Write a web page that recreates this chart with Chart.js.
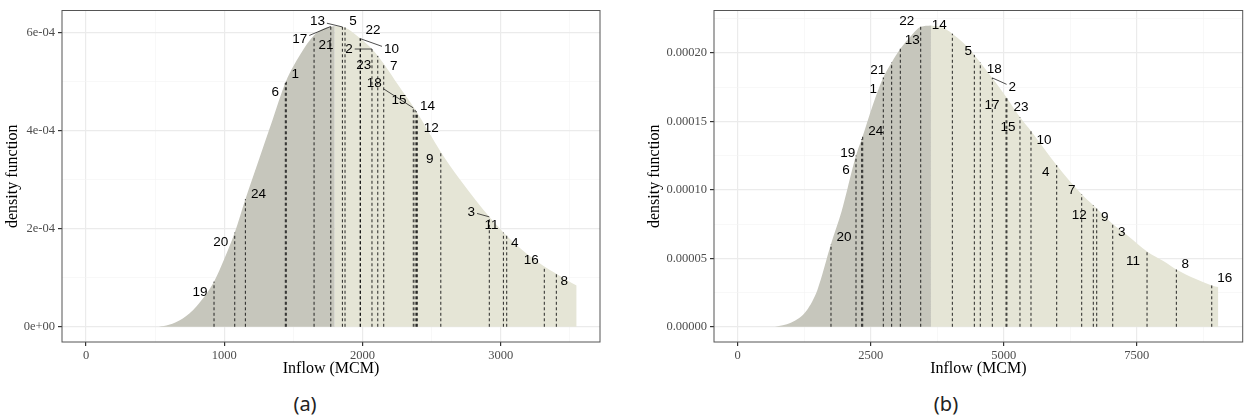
<!DOCTYPE html>
<html>
<head>
<meta charset="utf-8">
<script src="https://cdn.jsdelivr.net/npm/chart.js@4.4.1/dist/chart.umd.min.js"></script>
<style>
  body { margin: 0; background: #fff; width: 1244px; height: 418px; overflow: hidden; position: relative; }
  canvas { position: absolute; top: 0; }
  .tag { position: absolute; top: 390px; width: 100px; text-align: center; font: 20px "Noto Sans", sans-serif; line-height: 28px; color: #222; }
</style>
</head>
<body>
<canvas id="chartA" width="610" height="385" style="left:0"></canvas>
<canvas id="chartB" width="604" height="385" style="left:640px"></canvas>
<div class="tag" style="left:255px">(a)</div>
<div class="tag" style="left:896px">(b)</div>
<script>
// ---- panel (a): density curve
const curveAx = [526, 600, 700, 800, 926, 1000, 1076, 1153, 1250, 1350, 1445, 1550, 1650, 1720, 1800, 1874, 1983, 2069, 2154, 2260, 2390, 2567, 2700, 2820, 2918, 3020, 3150, 3316, 3403, 3480, 3550];
const curveAy = [0, 0.04e-4, 0.17e-4, 0.42e-4, 0.92e-4, 1.38e-4, 1.92e-4, 2.60e-4, 3.40e-4, 4.22e-4, 4.99e-4, 5.55e-4, 5.94e-4, 6.08e-4, 6.13e-4, 6.10e-4, 5.88e-4, 5.66e-4, 5.36e-4, 4.92e-4, 4.39e-4, 3.56e-4, 3.02e-4, 2.58e-4, 2.24e-4, 1.92e-4, 1.58e-4, 1.23e-4, 1.08e-4, 0.95e-4, 0.84e-4];
const modeA = 1800;
// yearly inflows (labels 1..24) and their density
const yearsA = ['19', '20', '24', '6', '1', '21', '17', '13', '5', '22', '10', '2', '23', '7', '18', '15', '14', '12', '9', '3', '11', '4', '16', '8'];
const inflowA = [926, 1076, 1153, 1442, 1449, 1650, 1771, 1855, 1874, 1983, 1986, 2069, 2111, 2154, 2368, 2381, 2391, 2397, 2567, 2918, 3020, 3044, 3316, 3403];
const densA = [0.92e-4, 1.92e-4, 2.60e-4, 4.97e-4, 5.01e-4, 5.94e-4, 6.12e-4, 6.11e-4, 6.10e-4, 5.88e-4, 5.87e-4, 5.66e-4, 5.52e-4, 5.36e-4, 4.46e-4, 4.42e-4, 4.39e-4, 4.37e-4, 3.56e-4, 2.24e-4, 1.92e-4, 1.87e-4, 1.23e-4, 1.08e-4];
const xTicksA = [0, 500, 1000, 1500, 2000, 2500, 3000, 3500];
const xLabelsA = ['0', '', '1000', '', '2000', '', '3000', ''];
const yTicksA = [0, 1e-4, 2e-4, 3e-4, 4e-4, 5e-4, 6e-4];
const yLabelsA = ['0e+00', '', '2e-04', '', '4e-04', '', '6e-04'];

// ---- panel (b)
const curveBx = [701, 1000, 1300, 1500, 1754, 1955, 2224, 2340, 2550, 2737, 2894, 3057, 3250, 3440, 3633, 3850, 4035, 4250, 4448, 4560, 4786, 5044, 5306, 5513, 5996, 6466, 6684, 6748, 7049, 7350, 7694, 8000, 8245, 8600, 8910, 9034];
const curveBy = [0, 0.29e-5, 1.21e-5, 2.71e-5, 6.04e-5, 8.45e-5, 12.5e-5, 13.8e-5, 16.3e-5, 18.2e-5, 19.3e-5, 20.3e-5, 21.2e-5, 21.9e-5, 22.0e-5, 21.85e-5, 21.4e-5, 20.7e-5, 19.85e-5, 19.3e-5, 18.17e-5, 16.8e-5, 15.3e-5, 14.3e-5, 11.8e-5, 9.67e-5, 8.87e-5, 8.63e-5, 7.5e-5, 6.6e-5, 5.5e-5, 4.8e-5, 4.18e-5, 3.5e-5, 3.02e-5, 2.9e-5];
const modeB = 3633;
const yearsB = ['20', '6', '19', '24', '1', '21', '13', '22', '14', '5', '18', '2', '17', '15', '23', '10', '4', '7', '12', '9', '3', '11', '8', '16'];
const inflowB = [1754, 2224, 2330, 2350, 2737, 2894, 3057, 3440, 4035, 4448, 4560, 4786, 5044, 5060, 5306, 5513, 5996, 6466, 6684, 6748, 7049, 7694, 8245, 8910];
const densB = [6.04e-5, 12.5e-5, 13.7e-5, 13.9e-5, 18.2e-5, 19.3e-5, 20.3e-5, 21.9e-5, 21.4e-5, 19.85e-5, 19.3e-5, 18.17e-5, 16.8e-5, 16.7e-5, 15.3e-5, 14.3e-5, 11.8e-5, 9.67e-5, 8.87e-5, 8.63e-5, 7.5e-5, 5.5e-5, 4.18e-5, 3.02e-5];
const xTicksB = [0, 1250, 2500, 3750, 5000, 6250, 7500, 8750];
const xLabelsB = ['0', '', '2500', '', '5000', '', '7500', ''];
const yTicksB = [0, 2.5e-5, 5e-5, 7.5e-5, 10e-5, 12.5e-5, 15e-5, 17.5e-5, 20e-5, 22.5e-5];
const yLabelsB = ['0.00000', '', '0.00005', '', '0.00010', '', '0.00015', '', '0.00020', ''];

// label placement (pixel nudges, like ggrepel did it)
const nudgeA = { 19: [-14, 11], 20: [-14, 10], 24: [13, -5], 6: [-10, 9], 1: [9, -7], 21: [12, 10], 17: [-31, 13], 13: [-25, -6],
  5: [8, -6], 22: [13, -8], 10: [31, 11], 2: [-23, 0], 23: [-14, 9], 7: [10, 3], 18: [-39, -25], 15: [-16, -10], 14: [11, -5],
  12: [14, 16], 9: [-11, 7], 3: [-18, -5], 11: [-12, -7], 4: [8, 8], 16: [-13, -6], 8: [8, 7] };
const nudgeB = { 20: [13, -7], 6: [-10, 15], 19: [-14, 14], 24: [13, -5], 1: [-10, 12], 21: [-14, 8], 13: [12, -8], 22: [-14, -6],
  14: [-13, -8], 5: [-6, -4], 18: [14, 7], 2: [20, 9], 17: [-14, 9], 15: [1, 29], 23: [1, -10], 10: [13, 9], 4: [-11, 7],
  7: [-10, -4], 12: [-14, 10], 9: [8, 9], 3: [9, 8], 11: [-14, 10], 8: [9, -5], 16: [13, -7] };

const DARK = '#c6c6bc';
const LIGHT = '#e5e5d6';
const SERIF = '"Liberation Serif", "Times New Roman", serif';

// year labels, leader segments and the panel border
const annotate = {
  id: 'annotate',
  afterDraw(chart, args, o) {
    const { ctx, chartArea: a, scales: { x, y } } = chart;
    ctx.save();
    ctx.font = '13.5px "Liberation Sans", Arial, sans-serif';
    ctx.textAlign = 'center';
    ctx.textBaseline = 'middle';
    o.years.forEach((yr, i) => {
      const px = x.getPixelForValue(o.inflow[i]);
      const py = y.getPixelForValue(o.dens[i]);
      const [dx, dy] = o.nudge[yr];
      const lx = px + dx, ly = py + dy;
      if (o.segments.includes(yr)) {
        const hw = ctx.measureText(yr).width / 2 + 2, hh = 7;
        const vx = px - lx, vy = py - ly;
        const t = Math.min(vx ? hw / Math.abs(vx) : Infinity, vy ? hh / Math.abs(vy) : Infinity);
        if (t < 1) {
          ctx.beginPath();
          ctx.moveTo(lx + vx * t, ly + vy * t);
          ctx.lineTo(px, py);
          ctx.strokeStyle = '#222';
          ctx.lineWidth = 0.8;
          ctx.stroke();
        }
      }
      ctx.fillStyle = '#000';
      ctx.fillText(yr, lx, ly);
    });
    ctx.strokeStyle = '#555';
    ctx.lineWidth = 1;
    ctx.strokeRect(a.left, a.top, a.right - a.left, a.bottom - a.top);
    ctx.restore();
  }
};

function makeChart(id, d) {
  const pts = d.curveX.map((x, i) => ({ x: x, y: d.curveY[i] }));
  const area = (data, color) => ({
    data: data, fill: 'origin', backgroundColor: color, borderWidth: 0, pointRadius: 0,
    tension: 0.4, cubicInterpolationMode: 'monotone', order: 2
  });
  const drops = d.years.map((yr, i) => ({
    data: [{ x: d.inflow[i], y: 0 }, { x: d.inflow[i], y: d.dens[i] }],
    borderColor: '#111', borderWidth: 0.9, borderDash: [3, 2.5], pointRadius: 0, fill: false, order: 1
  }));
  const grid = labels => ({
    color: c => labels[c.index] ? '#ebebeb' : '#f3f3f3',
    lineWidth: c => labels[c.index] ? 1.2 : 0.6,
    tickColor: c => labels[c.index] ? '#333' : 'rgba(0,0,0,0)',
    tickLength: 4
  });
  const tickFont = { family: SERIF, size: 12.5 };
  return new Chart(document.getElementById(id), {
    type: 'line',
    data: {
      datasets: [
        area(pts.filter(p => p.x <= d.mode), DARK),
        area(pts.filter(p => p.x >= d.mode), LIGHT),
        ...drops
      ]
    },
    options: {
      responsive: false,
      animation: false,
      events: [],
      layout: { padding: { top: 8, right: d.padRight, bottom: 0, left: 0 } },
      scales: {
        x: {
          type: 'linear', min: d.xMin, max: d.xMax,
          afterBuildTicks: s => { s.ticks = d.xTicks.map(v => ({ value: v })); },
          afterFit: s => { s.height = 43; },
          ticks: { autoSkip: false, maxRotation: 0, padding: 2, color: '#4d4d4d', font: tickFont, callback: (v, i) => d.xLabels[i] },
          grid: grid(d.xLabels),
          border: { display: false },
          title: { display: true, text: 'Inflow (MCM)', color: '#000', font: { family: SERIF, size: 16 }, padding: { top: 0, bottom: 7 } }
        },
        y: {
          type: 'linear', min: d.yMin, max: d.yMax,
          afterBuildTicks: s => { s.ticks = d.yTicks.map(v => ({ value: v })); },
          afterFit: s => { s.width = d.yAxisWidth; },
          ticks: { autoSkip: false, padding: 3, color: '#4d4d4d', font: tickFont, callback: (v, i) => d.yLabels[i] },
          grid: grid(d.yLabels),
          border: { display: false },
          title: { display: true, text: 'density function', color: '#000', font: { family: SERIF, size: 16 }, padding: { top: d.yTitlePad, bottom: 0 } }
        }
      },
      plugins: {
        legend: { display: false },
        tooltip: { enabled: false },
        annotate: { years: d.years, inflow: d.inflow, dens: d.dens, nudge: d.nudge, segments: d.segments }
      }
    },
    plugins: [annotate]
  });
}

makeChart('chartA', {
  curveX: curveAx, curveY: curveAy, mode: modeA,
  years: yearsA, inflow: inflowA, dens: densA, nudge: nudgeA, segments: ['17', '13', '10', '2', '18', '3'],
  xTicks: xTicksA, xLabels: xLabelsA, yTicks: yTicksA, yLabels: yLabelsA,
  xMin: -174, xMax: 3719, yMin: -3.1e-5, yMax: 6.445e-4,
  yAxisWidth: 62, yTitlePad: 3.5, padRight: 10
});

makeChart('chartB', {
  curveX: curveBx, curveY: curveBy, mode: modeB,
  years: yearsB, inflow: inflowB, dens: densB, nudge: nudgeB, segments: ['2'],
  xTicks: xTicksB, xLabels: xLabelsB, yTicks: yTicksB, yLabels: yLabelsB,
  xMin: -445, xMax: 9492, yMin: -1.11e-5, yMax: 2.309e-4,
  yAxisWidth: 74, yTitlePad: 5.5, padRight: 1.3
});
</script>
</body>
</html>
